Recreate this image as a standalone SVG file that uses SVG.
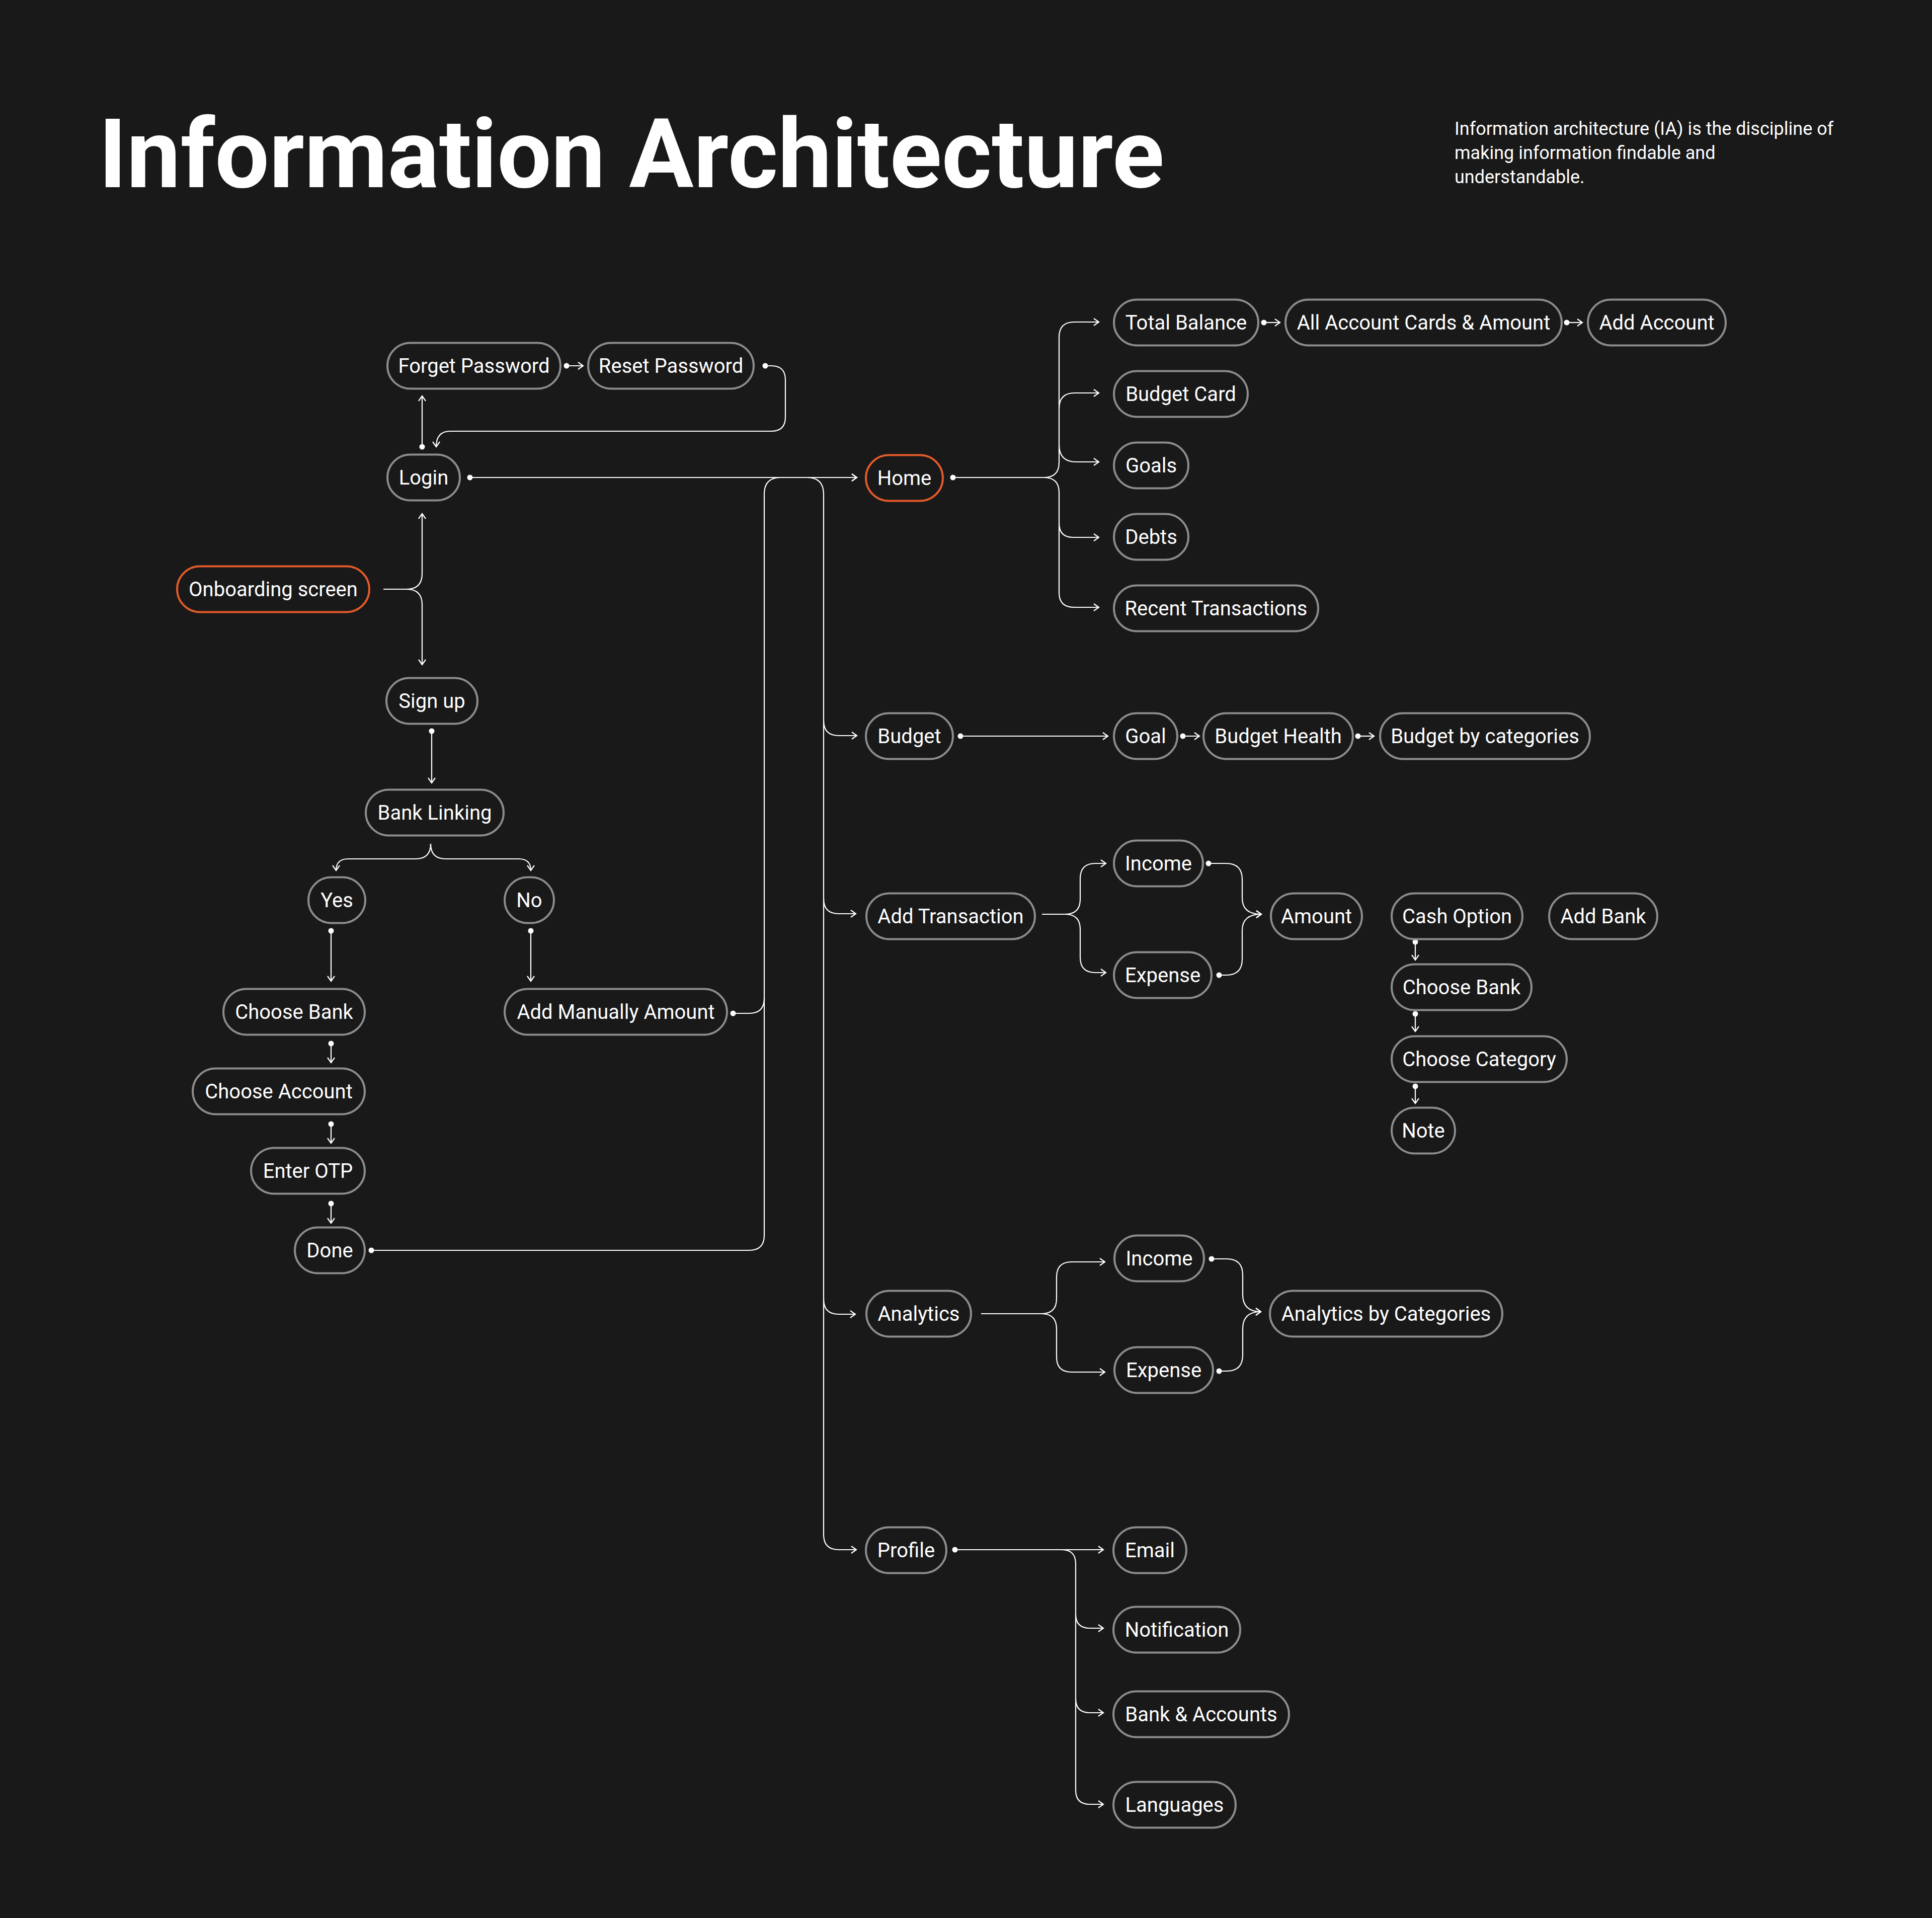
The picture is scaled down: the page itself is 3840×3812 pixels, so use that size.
<svg xmlns="http://www.w3.org/2000/svg" width="3840" height="3812" viewBox="0 0 3840 3812">
<style>
.bg{fill:#191919}
.n rect{fill:#191919;stroke:#8c8c8c;stroke-width:4}
.n.hl rect{stroke:#E35A2A}
.n text{font-family:Roboto,"Liberation Sans",sans-serif;font-size:40px;fill:#ffffff;text-anchor:middle}
.c path{fill:none;stroke:#ffffff;stroke-width:2.2}
.title{font-family:Roboto,"Liberation Sans",sans-serif;font-weight:700;font-size:192px;fill:#ffffff}
.desc{font-family:Roboto,"Liberation Sans",sans-serif;font-size:36px;fill:#ffffff}
</style>
<defs>
<marker id="arr" markerWidth="24" markerHeight="24" refX="12" refY="12" orient="auto" markerUnits="userSpaceOnUse"><path d="M2,5 L12,12 L2,19" fill="none" stroke="#ffffff" stroke-width="2.2"/></marker>
<marker id="dot" markerWidth="14" markerHeight="14" refX="7" refY="7" markerUnits="userSpaceOnUse"><circle cx="7" cy="7" r="5.5" fill="#ffffff"/></marker>
</defs>
<rect class="bg" x="0" y="0" width="3840" height="3812"/>
<text class="title" x="196" y="372" textLength="2118" lengthAdjust="spacingAndGlyphs">Information Architecture</text>
<text class="desc" x="2891" y="268">Information architecture (IA) is the discipline of</text>
<text class="desc" x="2891" y="316">making information findable and</text>
<text class="desc" x="2891" y="364">understandable.</text>

<g id="connectors" class="c">
<path d="M839,888 V787" marker-start="url(#dot)" marker-end="url(#arr)"/>
<path d="M1126,727 H1159" marker-start="url(#dot)" marker-end="url(#arr)"/>
<path d="M1521,727 H1533 Q1561,727 1561,755 V829 Q1561,857 1533,857 H895 Q867,857 867,888" marker-start="url(#dot)" marker-end="url(#arr)"/>
<path d="M934,949 H1703" marker-start="url(#dot)" marker-end="url(#arr)"/>
<path d="M762,1171 H808 Q839,1171 839,1140 V1021" marker-end="url(#arr)"/>
<path d="M808,1171 Q839,1171 839,1202 V1321" marker-end="url(#arr)"/>
<path d="M858,1453 V1556" marker-start="url(#dot)" marker-end="url(#arr)"/>
<path d="M856,1677 Q856,1707 826,1707 H692 Q668,1707 668,1730" marker-end="url(#arr)"/>
<path d="M856,1677 Q856,1707 886,1707 H1031 Q1055,1707 1055,1730" marker-end="url(#arr)"/>
<path d="M658,1850 V1950" marker-start="url(#dot)" marker-end="url(#arr)"/>
<path d="M1055,1850 V1950" marker-start="url(#dot)" marker-end="url(#arr)"/>
<path d="M658,2074 V2112" marker-start="url(#dot)" marker-end="url(#arr)"/>
<path d="M658,2234 V2272" marker-start="url(#dot)" marker-end="url(#arr)"/>
<path d="M658,2392 V2431" marker-start="url(#dot)" marker-end="url(#arr)"/>
<path d="M738,2485 H1489 Q1519,2485 1519,2455 V982 Q1519,949 1552,949 H1703" marker-start="url(#dot)" marker-end="url(#arr)"/>
<path d="M1457,2014 H1489 Q1519,2014 1519,1984" marker-start="url(#dot)"/>
<path d="M1604,949 Q1637,949 1637,982 V3050 Q1637,3080 1667,3080 H1702" marker-end="url(#arr)"/>
<path d="M1637,1432 Q1637,1462 1667,1462 H1703" marker-end="url(#arr)"/>
<path d="M1637,1786 Q1637,1816 1667,1816 H1701" marker-end="url(#arr)"/>
<path d="M1637,2582 Q1637,2612 1667,2612 H1700" marker-end="url(#arr)"/>
<path d="M1894,949 H2075 Q2105,949 2105,919 V670 Q2105,640 2135,640 H2184" marker-start="url(#dot)" marker-end="url(#arr)"/>
<path d="M2075,949 Q2105,949 2105,979 V1178 Q2105,1207 2135,1207 H2184" marker-end="url(#arr)"/>
<path d="M2105,812 Q2105,781 2136,781 H2184" marker-end="url(#arr)"/>
<path d="M2105,884 Q2105,918 2139,918 H2184" marker-end="url(#arr)"/>
<path d="M2105,1040 Q2105,1068 2133,1068 H2184" marker-end="url(#arr)"/>
<path d="M2512,641 H2544" marker-start="url(#dot)" marker-end="url(#arr)"/>
<path d="M3114,641 H3145" marker-start="url(#dot)" marker-end="url(#arr)"/>
<path d="M1909,1463 H2202" marker-start="url(#dot)" marker-end="url(#arr)"/>
<path d="M2351,1463 H2384" marker-start="url(#dot)" marker-end="url(#arr)"/>
<path d="M2699,1463 H2731" marker-start="url(#dot)" marker-end="url(#arr)"/>
<path d="M2071,1817 H2117 Q2147,1817 2147,1787 V1746 Q2147,1716 2177,1716 H2198" marker-end="url(#arr)"/>
<path d="M2117,1817 Q2147,1817 2147,1847 V1903 Q2147,1933 2177,1933 H2198" marker-end="url(#arr)"/>
<path d="M2402,1716 H2437 Q2469,1716 2469,1748 V1785 Q2469,1817 2507,1817" marker-start="url(#dot)" marker-end="url(#arr)"/>
<path d="M2423,1938 H2437 Q2469,1938 2469,1906 V1849 Q2469,1817 2507,1817" marker-start="url(#dot)" marker-end="url(#arr)"/>
<path d="M2813,1872 V1908" marker-start="url(#dot)" marker-end="url(#arr)"/>
<path d="M2813,2015 V2050" marker-start="url(#dot)" marker-end="url(#arr)"/>
<path d="M2813,2159 V2193" marker-start="url(#dot)" marker-end="url(#arr)"/>
<path d="M1950,2611 H2070 Q2100,2611 2100,2581 V2538 Q2100,2508 2130,2508 H2196" marker-end="url(#arr)"/>
<path d="M2070,2611 Q2100,2611 2100,2641 V2697 Q2100,2727 2130,2727 H2196" marker-end="url(#arr)"/>
<path d="M2408,2502 H2438 Q2470,2502 2470,2534 V2573 Q2470,2607 2506,2607" marker-start="url(#dot)" marker-end="url(#arr)"/>
<path d="M2423,2725 H2438 Q2470,2725 2470,2693 V2641 Q2470,2607 2506,2607" marker-start="url(#dot)" marker-end="url(#arr)"/>
<path d="M1898,3080 H2193" marker-start="url(#dot)" marker-end="url(#arr)"/>
<path d="M2110,3080 Q2138,3080 2138,3108 V3558 Q2138,3586 2166,3586 H2193" marker-end="url(#arr)"/>
<path d="M2138,3208 Q2138,3236 2166,3236 H2193" marker-end="url(#arr)"/>
<path d="M2138,3376 Q2138,3404 2166,3404 H2193" marker-end="url(#arr)"/>
</g>

<g id="forget-password" class="n"><rect x="770" y="681.5" width="344" height="91" rx="45.5"/><text x="942" y="741">Forget Password</text></g>
<g id="reset-password" class="n"><rect x="1169" y="681.5" width="329" height="91" rx="45.5"/><text x="1333.5" y="741">Reset Password</text></g>
<g id="login" class="n"><rect x="770" y="903.5" width="144" height="91" rx="45.5"/><text x="842" y="963">Login</text></g>
<g id="onboarding" class="n hl"><rect x="352" y="1125.5" width="382" height="91" rx="45.5"/><text x="543" y="1185">Onboarding screen</text></g>
<g id="sign-up" class="n"><rect x="768" y="1347.5" width="181" height="91" rx="45.5"/><text x="858.5" y="1407">Sign up</text></g>
<g id="bank-linking" class="n"><rect x="727" y="1569.5" width="274" height="91" rx="45.5"/><text x="864" y="1629">Bank Linking</text></g>
<g id="yes" class="n"><rect x="613" y="1743.5" width="113" height="91" rx="45.5"/><text x="669.5" y="1803">Yes</text></g>
<g id="no" class="n"><rect x="1003" y="1743.5" width="98" height="91" rx="45.5"/><text x="1052" y="1803">No</text></g>
<g id="choose-bank-1" class="n"><rect x="444" y="1965.5" width="281" height="91" rx="45.5"/><text x="584.5" y="2025">Choose Bank</text></g>
<g id="add-manually-amount" class="n"><rect x="1003" y="1965.5" width="442" height="91" rx="45.5"/><text x="1224" y="2025">Add Manually Amount</text></g>
<g id="choose-account" class="n"><rect x="383" y="2123.5" width="342" height="91" rx="45.5"/><text x="554" y="2183">Choose Account</text></g>
<g id="enter-otp" class="n"><rect x="499" y="2281.5" width="226" height="91" rx="45.5"/><text x="612" y="2341">Enter OTP</text></g>
<g id="done" class="n"><rect x="586" y="2439.5" width="139" height="91" rx="45.5"/><text x="655.5" y="2499">Done</text></g>

<g id="home" class="n hl"><rect x="1721" y="904.5" width="153" height="91" rx="45.5"/><text x="1797.5" y="964">Home</text></g>
<g id="total-balance" class="n"><rect x="2214" y="595.5" width="287" height="91" rx="45.5"/><text x="2357.5" y="655">Total Balance</text></g>
<g id="all-account-cards" class="n"><rect x="2555" y="595.5" width="549" height="91" rx="45.5"/><text x="2829.5" y="655">All Account Cards &amp; Amount</text></g>
<g id="add-account" class="n"><rect x="3156" y="595.5" width="274" height="91" rx="45.5"/><text x="3293" y="655">Add Account</text></g>
<g id="budget-card" class="n"><rect x="2214" y="737.5" width="266" height="91" rx="45.5"/><text x="2347" y="797">Budget Card</text></g>
<g id="goals" class="n"><rect x="2214" y="879.5" width="148" height="91" rx="45.5"/><text x="2288" y="939">Goals</text></g>
<g id="debts" class="n"><rect x="2214" y="1021.5" width="148" height="91" rx="45.5"/><text x="2288" y="1081">Debts</text></g>
<g id="recent-transactions" class="n"><rect x="2214" y="1163.5" width="406" height="91" rx="45.5"/><text x="2417" y="1223">Recent Transactions</text></g>

<g id="budget" class="n"><rect x="1721" y="1417.5" width="173" height="91" rx="45.5"/><text x="1807.5" y="1477">Budget</text></g>
<g id="goal" class="n"><rect x="2214" y="1417.5" width="126" height="91" rx="45.5"/><text x="2277" y="1477">Goal</text></g>
<g id="budget-health" class="n"><rect x="2392" y="1417.5" width="297" height="91" rx="45.5"/><text x="2540.5" y="1477">Budget Health</text></g>
<g id="budget-by-categories" class="n"><rect x="2743" y="1417.5" width="417" height="91" rx="45.5"/><text x="2951.5" y="1477">Budget by categories</text></g>

<g id="add-transaction" class="n"><rect x="1722" y="1775.5" width="335" height="91" rx="45.5"/><text x="1889.5" y="1835">Add Transaction</text></g>
<g id="income-1" class="n"><rect x="2214" y="1670.5" width="177" height="91" rx="45.5"/><text x="2302.5" y="1730">Income</text></g>
<g id="expense-1" class="n"><rect x="2214" y="1892.5" width="194" height="91" rx="45.5"/><text x="2311" y="1952">Expense</text></g>
<g id="amount" class="n"><rect x="2526" y="1775.5" width="181" height="91" rx="45.5"/><text x="2616.5" y="1835">Amount</text></g>
<g id="cash-option" class="n"><rect x="2766" y="1775.5" width="260" height="91" rx="45.5"/><text x="2896" y="1835">Cash Option</text></g>
<g id="add-bank" class="n"><rect x="3079" y="1775.5" width="215" height="91" rx="45.5"/><text x="3186.5" y="1835">Add Bank</text></g>
<g id="choose-bank-2" class="n"><rect x="2766" y="1916.5" width="278" height="91" rx="45.5"/><text x="2905" y="1976">Choose Bank</text></g>
<g id="choose-category" class="n"><rect x="2766" y="2059.5" width="348" height="91" rx="45.5"/><text x="2940" y="2119">Choose Category</text></g>
<g id="note" class="n"><rect x="2766" y="2201.5" width="126" height="91" rx="45.5"/><text x="2829" y="2261">Note</text></g>

<g id="analytics" class="n"><rect x="1722" y="2565.5" width="208" height="91" rx="45.5"/><text x="1826" y="2625">Analytics</text></g>
<g id="income-2" class="n"><rect x="2215" y="2455.5" width="178" height="91" rx="45.5"/><text x="2304" y="2515">Income</text></g>
<g id="expense-2" class="n"><rect x="2215" y="2677.5" width="196" height="91" rx="45.5"/><text x="2313" y="2737">Expense</text></g>
<g id="analytics-by-categories" class="n"><rect x="2524" y="2565.5" width="462" height="91" rx="45.5"/><text x="2755" y="2625">Analytics by Categories</text></g>

<g id="profile" class="n"><rect x="1721" y="3035.5" width="160" height="91" rx="45.5"/><text x="1801" y="3095">Profile</text></g>
<g id="email" class="n"><rect x="2213" y="3035.5" width="145" height="91" rx="45.5"/><text x="2285.5" y="3095">Email</text></g>
<g id="notification" class="n"><rect x="2213" y="3193.5" width="252" height="91" rx="45.5"/><text x="2339" y="3253">Notification</text></g>
<g id="bank-accounts" class="n"><rect x="2213" y="3361.5" width="349" height="91" rx="45.5"/><text x="2387.5" y="3421">Bank &amp; Accounts</text></g>
<g id="languages" class="n"><rect x="2213" y="3541.5" width="243" height="91" rx="45.5"/><text x="2334.5" y="3601">Languages</text></g>
</svg>
